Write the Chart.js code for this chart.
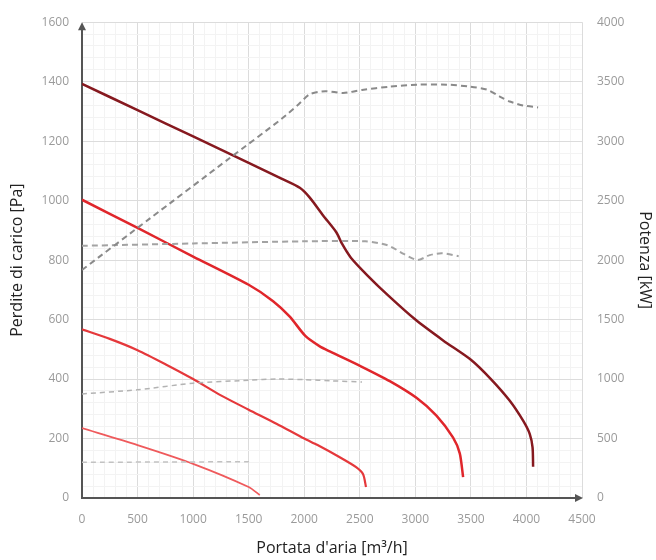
<!DOCTYPE html>
<html>
<head>
<meta charset="utf-8">
<script src="https://cdn.jsdelivr.net/npm/chart.js@4/dist/chart.umd.min.js"></script>
<style>
  html, body { margin: 0; padding: 0; background: #fff; }
  #chart { display: block; }
</style>
</head>
<body>
<canvas id="chart" width="656" height="560"></canvas>
<script>
// ── Data ──────────────────────────────────────────────
// pressure curves, left axis [Pa]
const curve1X = [0, 500, 1000, 1500, 1800, 1960, 2050, 2170, 2290, 2340, 2420, 2570, 2750, 3000, 3250, 3500, 3680, 3850, 3970, 4030, 4055, 4060];
const curve1Y = [1393, 1304, 1216, 1127, 1073, 1043, 1010, 950, 893, 855, 808, 748, 683, 600, 530, 465, 400, 327, 260, 215, 170, 105];

const curve2X = [0, 500, 1000, 1500, 1720, 1870, 2010, 2140, 2230, 2510, 2770, 3010, 3190, 3340, 3400, 3430];
const curve2Y = [1003, 908, 812, 717, 662, 610, 545, 510, 493, 443, 393, 337, 277, 203, 150, 70];

const curve3X = [0, 250, 500, 750, 1000, 1250, 1500, 1750, 2000, 2120, 2320, 2470, 2530, 2556];
const curve3Y = [567, 535, 497, 450, 400, 345, 297, 250, 200, 178, 137, 103, 80, 37];

const curve4X = [0, 500, 1000, 1500, 1600];
const curve4Y = [235, 178, 115, 37, 10];

// power curves, right axis [kW]
const power1X = [0, 600, 1330, 1800, 1950, 2050, 2190, 2350, 2520, 2770, 3015, 3285, 3490, 3645, 3760, 3850, 3970, 4105];
const power1Y = [1917, 2342, 2858, 3190, 3310, 3395, 3420, 3405, 3430, 3458, 3475, 3475, 3458, 3433, 3375, 3333, 3300, 3283];

const power2X = [0, 1000, 2000, 2550, 2750, 2900, 3020, 3130, 3240, 3390];
const power2Y = [2120, 2140, 2158, 2158, 2125, 2050, 2000, 2042, 2058, 2033];

const power3X = [0, 500, 1000, 1500, 1750, 2000, 2250, 2520];
const power3Y = [875, 910, 965, 990, 1000, 995, 985, 975];

const power4X = [0, 1510];
const power4Y = [300, 305];

// axes
const X_MAX = 4500, Y_MAX = 1600, Y2_MAX = 4000;

const pts = (xs, ys) => xs.map((x, i) => ({ x, y: ys[i] }));

// ── Axis arrows ───────────────────────────────────────
const axisArrows = {
  id: 'axisArrows',
  beforeDatasetsDraw(chart) {
    const { ctx, chartArea: a } = chart;
    ctx.save();
    ctx.strokeStyle = '#555';
    ctx.fillStyle = '#555';
    ctx.lineWidth = 2;
    ctx.beginPath();
    ctx.moveTo(a.left, a.bottom + 1);
    ctx.lineTo(a.left, a.top + 6);
    ctx.moveTo(a.left - 1, a.bottom);
    ctx.lineTo(a.right - 6, a.bottom);
    ctx.stroke();
    // up arrow
    ctx.beginPath();
    ctx.moveTo(a.left, a.top);
    ctx.lineTo(a.left - 4, a.top + 8);
    ctx.lineTo(a.left + 4, a.top + 8);
    ctx.closePath();
    ctx.fill();
    // right arrow
    ctx.beginPath();
    ctx.moveTo(a.right + 1, a.bottom);
    ctx.lineTo(a.right - 7, a.bottom - 4);
    ctx.lineTo(a.right - 7, a.bottom + 4);
    ctx.closePath();
    ctx.fill();
    ctx.restore();
  }
};

const tickFont = { family: "'Open Sans', 'DejaVu Sans', sans-serif", size: 12 };
const titleFont = { family: "'Open Sans', 'DejaVu Sans', sans-serif", size: 16 };

const line = (data, color, width, axis, dash) => ({
  data, borderColor: color, borderWidth: width, yAxisID: axis,
  borderDash: dash || [], showLine: true, pointRadius: 0, tension: 0.25, fill: false
});

new Chart(document.getElementById('chart'), {
  type: 'scatter',
  data: {
    datasets: [
      line(pts(power1X, power1Y), '#8a8a8a', 2, 'y2', [6, 4]),
      line(pts(power2X, power2Y), '#a3a3a3', 2, 'y2', [6, 4]),
      line(pts(power3X, power3Y), '#b3b3b3', 1.5, 'y2', [5, 4]),
      line(pts(power4X, power4Y), '#c2c2c2', 1.5, 'y2', [5, 4]),
      line(pts(curve4X, curve4Y), '#ef5a5c', 1.8, 'y'),
      line(pts(curve3X, curve3Y), '#e5383b', 2.2, 'y'),
      line(pts(curve2X, curve2Y), '#e0262b', 2.5, 'y'),
      line(pts(curve1X, curve1Y), '#86191f', 2.5, 'y'),
    ]
  },
  options: {
    responsive: false,
    animation: false,
    layout: { padding: { top: 18, left: 0, right: 0, bottom: 0 } },
    plugins: { legend: { display: false }, tooltip: { enabled: false } },
    scales: {
      x: {
        type: 'linear', min: 0, max: X_MAX,
        afterFit: s => { s.height = 62; },
        border: { display: false },
        grid: {
          drawTicks: false,
          color: c => Math.round(c.tick.value) % 500 === 0 ? '#dcdcdc' : '#f3f3f3'
        },
        ticks: {
          stepSize: 100, autoSkip: false, maxRotation: 0, padding: 14,
          color: '#9a9a9a', font: tickFont,
          callback: v => Math.round(v) % 500 === 0 ? String(Math.round(v)) : ''
        },
        title: {
          display: true, text: "Portata d'aria [m³/h]", color: '#222',
          font: titleFont, padding: { top: 0, bottom: 2 }
        }
      },
      y: {
        type: 'linear', position: 'left', min: 0, max: Y_MAX,
        afterFit: s => { s.width = 82; },
        border: { display: false },
        grid: {
          drawTicks: false,
          color: c => Math.round(c.tick.value) % 200 === 0 ? '#dcdcdc' : '#f3f3f3'
        },
        ticks: {
          stepSize: 40, autoSkip: false, padding: 13,
          color: '#9a9a9a', font: tickFont,
          callback: v => Math.round(v) % 200 === 0 ? String(Math.round(v)) : ''
        },
        title: {
          display: true, text: 'Perdite di carico [Pa]', color: '#222',
          font: titleFont, padding: { top: 8, bottom: 0 }
        }
      },
      y2: {
        type: 'linear', position: 'right', min: 0, max: Y2_MAX,
        afterFit: s => { s.width = 74; },
        border: { display: false },
        grid: { display: false, drawTicks: false },
        ticks: {
          stepSize: 500, padding: 15, color: '#9a9a9a', font: tickFont,
          callback: v => String(Math.round(v))
        },
        title: {
          display: true, text: 'Potenza [kW]', color: '#222',
          font: titleFont, padding: { top: 2, bottom: 0 }
        }
      }
    }
  },
  plugins: [axisArrows]
});
</script>
</body>
</html>
